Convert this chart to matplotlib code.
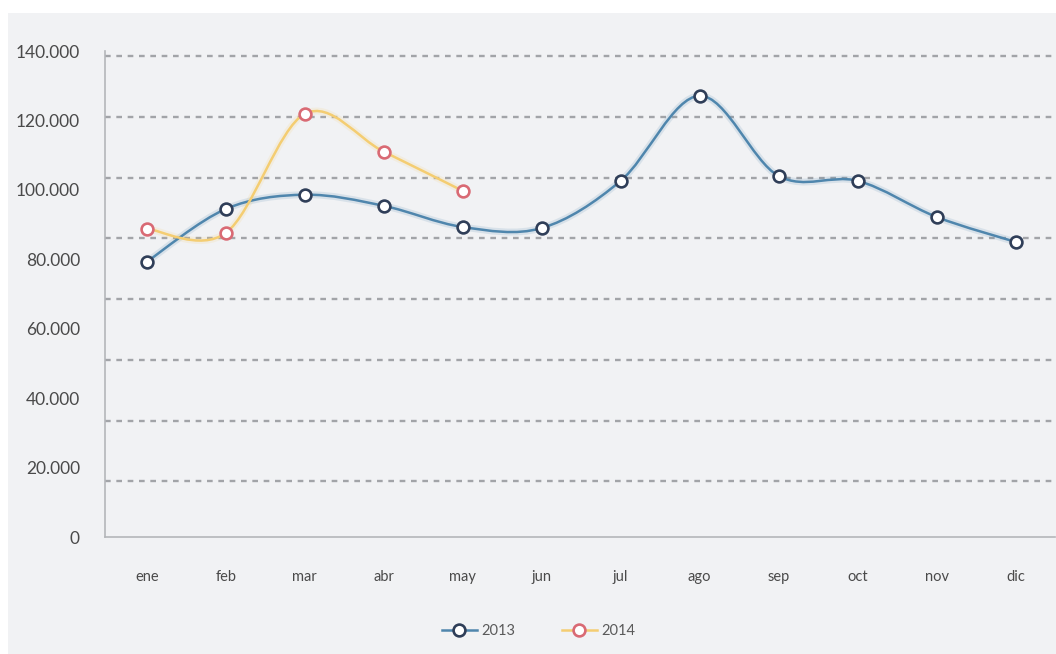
"""
Monthly totals 2013 vs 2014 as smoothed line chart with hollow markers.
Writes out.png.
"""

import matplotlib.pyplot as plt
from matplotlib.patches import PathPatch, Rectangle
from matplotlib.path import Path
from matplotlib.ticker import FixedLocator, FuncFormatter
import numpy as np

MONTHS = ["ene", "feb", "mar", "abr", "may", "jun",
          "jul", "ago", "sep", "oct", "nov", "dic"]
VALUES_2013 = [79300, 94500, 98600, 95400, 89300, 89000,
               102600, 127100, 104000, 102600, 92200, 85000]
VALUES_2014 = [88800, 87600, 121900, 111000, 99700]

Y_TICKS = [0, 20000, 40000, 60000, 80000, 100000, 120000, 140000]
GRID_LEVELS = [16000, 33500, 51000, 68500, 86000, 103500, 121000, 138500]

BG = "#f1f2f4"
TEXT = "#4a4a4a"

plt.rcParams["font.family"] = ["Lato", "DejaVu Sans"]


def smooth_path(xs, ys):
    """Catmull-Rom curve through the points, as cubic Bezier segments."""
    pts = np.column_stack([xs, ys]).astype(float)
    n = len(pts)
    verts = [pts[0]]
    codes = [Path.MOVETO]
    for i in range(n - 1):
        p0 = pts[max(i - 1, 0)]
        p1 = pts[i]
        p2 = pts[i + 1]
        p3 = pts[min(i + 2, n - 1)]
        c1 = p1 + (p2 - p0) / 6
        c2 = p2 - (p3 - p1) / 6
        verts += [c1, c2, p2]
        codes += [Path.CURVE4] * 3
    return Path(verts, codes)


def draw_series(ax, values, line_color, edge_color, label):
    xs = np.arange(len(values))
    # soft halo under the curve, then the curve itself
    ax.add_patch(PathPatch(smooth_path(xs, values), fill=False,
                           edgecolor=line_color, lw=5, alpha=0.15, zorder=2))
    ax.add_patch(PathPatch(smooth_path(xs, values), fill=False,
                           edgecolor=line_color, lw=1.8, zorder=3))
    ax.plot(xs, values, ls="none", marker="o", ms=8.5, mew=1.9,
            mfc="white", mec=edge_color, zorder=4)
    # legend proxy
    ax.plot([], [], color=line_color, lw=1.8, marker="o", ms=8.5, mew=1.9,
            mfc="white", mec=edge_color, label=label)


fig = plt.figure(figsize=(10.56, 6.54), dpi=100)
fig.patch.set_facecolor("white")
fig.add_artist(Rectangle((8 / 1056, 0), 1, 1 - 13 / 654,
                         transform=fig.transFigure, facecolor=BG,
                         edgecolor="none", zorder=-10))

ax = fig.add_axes([105 / 1056, 117 / 654, 950 / 1056, 486 / 654])
ax.set_facecolor(BG)

for lvl in GRID_LEVELS:
    ax.axhline(lvl, color="#a2a4a8", lw=1.7, ls=(0, (2.4, 2.4)), zorder=1)

draw_series(ax, VALUES_2013, "#4f86ad", "#2f3e58", "2013")
draw_series(ax, VALUES_2014, "#f4cd72", "#d96a74", "2014")

ax.set_xlim(-0.53, 11.5)
ax.set_ylim(0, 140000)
ax.set_xticks(range(len(MONTHS)))
ax.set_xticklabels(MONTHS)
ax.yaxis.set_major_locator(FixedLocator(Y_TICKS))
ax.yaxis.set_major_formatter(
    FuncFormatter(lambda v, _: f"{int(v):,}".replace(",", ".")))
ax.tick_params(axis="both", length=0, colors=TEXT)
ax.tick_params(axis="y", pad=18, labelsize=12.5)
ax.tick_params(axis="x", pad=24, labelsize=10.5)

for side in ("top", "right"):
    ax.spines[side].set_visible(False)
for side in ("left", "bottom"):
    ax.spines[side].set_color("#b4b6ba")
    ax.spines[side].set_linewidth(1.2)

fig.legend(loc="center", bbox_to_anchor=(0.51, 1 - 631 / 654), ncol=2,
           frameon=False, fontsize=10.5, labelcolor="#5a5a5a",
           handlelength=2.4, columnspacing=3.2, handletextpad=0.3)

fig.savefig("out.png", dpi=100, facecolor=fig.get_facecolor())
